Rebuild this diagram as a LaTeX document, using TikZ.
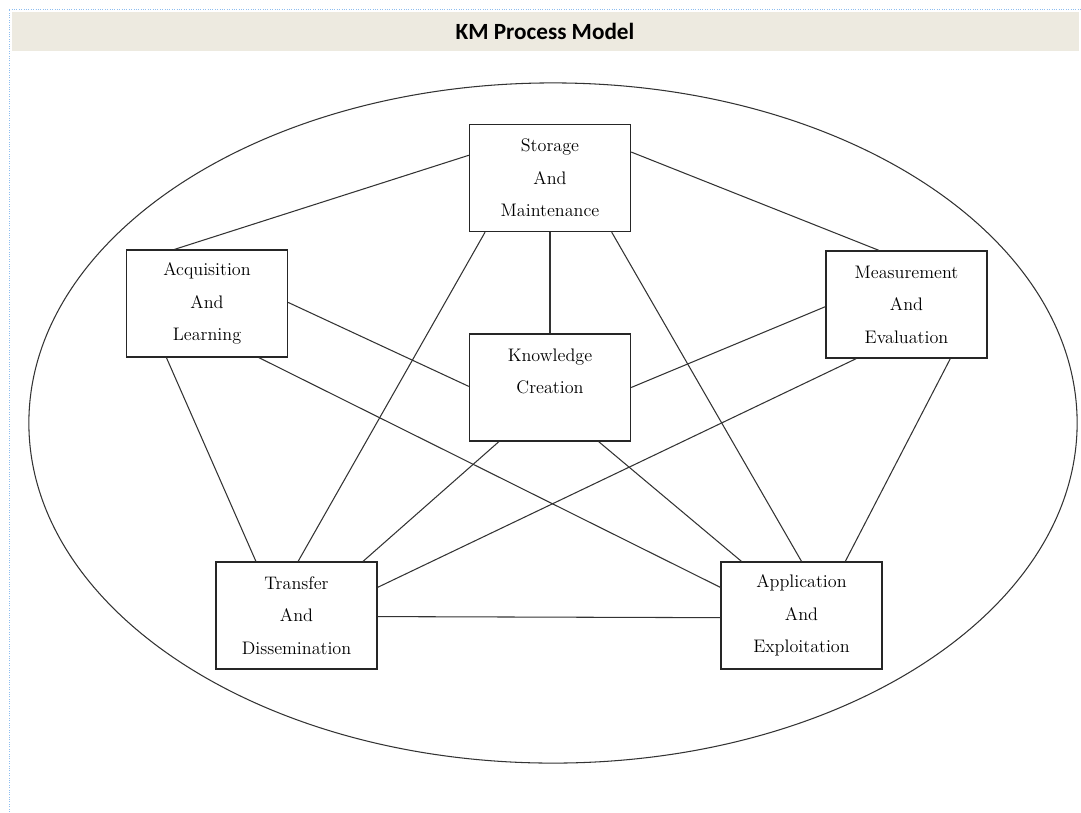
\documentclass[tikz,border=0pt]{standalone}
\usepackage{fontspec}
\newfontfamily\titlefont{Carlito}
\usetikzlibrary{calc}
\definecolor{barfill}{HTML}{EDEAE0}
\definecolor{pageline}{HTML}{8DBDF0}

\begin{document}
\begin{tikzpicture}[x=0.025cm,y=-0.025cm,
    stage/.style={draw=black!85,line width=0.9pt,minimum width=4.025cm,minimum height=2.675cm,
      align=center,inner sep=0pt,font=\fontsize{12.9}{23.1}\selectfont},
    link/.style={draw=black!80,line width=0.75pt}]
        \useasboundingbox (0,0) rectangle (1081,812);
        \draw[pageline,densely dotted,line width=0.7pt] (9,812) -- (9,9) -- (1081,9);
        \fill[barfill] (12,12) rectangle (1079,51);
        \node (title) at (545,31) {\titlefont\bfseries\fontsize{16.5}{20}\selectfont KM Process Model};

        \draw[black!80,line width=0.75pt] (553,423) ellipse [x radius=13.1cm,y radius=8.5cm];

        \node[stage] (SM) at (550,178) {Storage\\And\\Maintenance};
        \node[stage] (AL) at (207,303.5) {Acquisition\\And\\Learning};
        \node[stage] (ME) at (906.5,304.5) {Measurement\\And\\Evaluation};
        \node[stage] (KC) at (550,387.5) {Knowledge\\Creation\\\mbox{}};
        \node[stage] (TD) at (296.5,615.5) {Transfer\\And\\Dissemination};
        \node[stage] (AE) at (801.5,615.5) {Application\\And\\Exploitation};

        % from storage
        \draw[link] ($(SM.north west)!.29!(SM.south west)$) -- ($(AL.north west)!.3!(AL.north east)$);
        \draw[link] ($(SM.north east)!.26!(SM.south east)$) -- ($(ME.north west)!.33!(ME.north east)$);
        \draw[link] (SM.south) -- (KC.north);
        \draw[link] ($(SM.south west)!.1!(SM.south east)$) -- ($(TD.north west)!.51!(TD.north east)$);
        \draw[link] ($(SM.south west)!.88!(SM.south east)$) -- ($(AE.north west)!.5!(AE.north east)$);

        % from acquisition
        \draw[link] ($(AL.north east)!.49!(AL.south east)$) -- ($(KC.north west)!.49!(KC.south west)$);
        \draw[link] ($(AL.south west)!.82!(AL.south east)$) -- ($(AE.north west)!.24!(AE.south west)$);
        \draw[link] ($(AL.south west)!.25!(AL.south east)$) -- ($(TD.north west)!.25!(TD.north east)$);

        % from measurement
        \draw[link] ($(ME.north west)!.52!(ME.south west)$) -- ($(KC.north east)!.5!(KC.south east)$);
        \draw[link] ($(ME.south west)!.19!(ME.south east)$) -- ($(TD.north east)!.24!(TD.south east)$);
        \draw[link] ($(ME.south west)!.77!(ME.south east)$) -- ($(AE.north west)!.77!(AE.north east)$);

        % from knowledge
        \draw[link] ($(KC.south west)!.185!(KC.south east)$) -- ($(TD.north west)!.91!(TD.north east)$);
        \draw[link] ($(KC.south west)!.8!(KC.south east)$) -- ($(AE.north west)!.13!(AE.north east)$);

        \draw[link] ($(TD.north east)!.51!(TD.south east)$) -- ($(AE.north west)!.52!(AE.south west)$);
\end{tikzpicture}
\end{document}
